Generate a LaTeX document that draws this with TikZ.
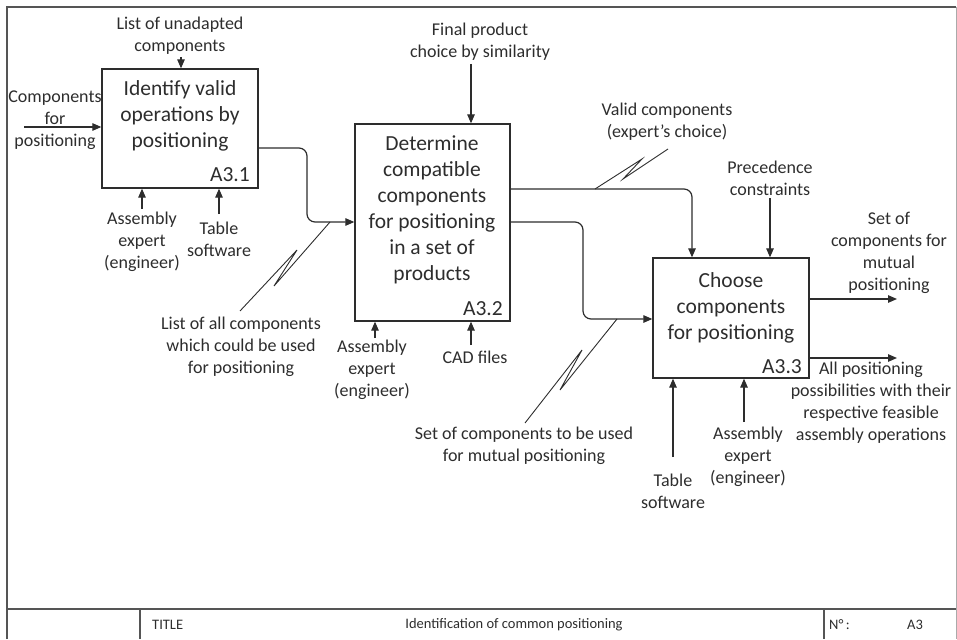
\documentclass[tikz,border=0pt]{standalone}
\usepackage{fontspec}
\setmainfont{Carlito}
\usetikzlibrary{arrows.meta}
\definecolor{ink}{RGB}{45,45,45}
\definecolor{framec}{RGB}{85,85,85}
\begin{document}
\begin{tikzpicture}[x=1pt,y=-1pt,
  box/.style={draw=ink, line width=1.3pt, inner sep=0pt},
  lbl/.style={text=ink, align=center, inner sep=0pt, font=\fontsize{18}{22}\selectfont},
  big/.style={text=ink, align=center, inner sep=0pt, font=\fontsize{21.5}{26}\selectfont},
  tlt/.style={text=ink, inner sep=0pt, font=\fontsize{14.5}{17}\selectfont},
  arr/.style={draw=ink, line width=1.2pt, -{Triangle[length=9pt,width=7.5pt]}},
  flow/.style={arr, rounded corners=8pt},
  squig/.style={draw=ink, line width=0.9pt, line join=miter},
  framel/.style={draw=framec, line width=1.4pt}]
\useasboundingbox (0,0) rectangle (957,639);

% frame and title block
\draw[framel] (7,639) -- (7,7) -- (956,7);
\draw[draw=framec!50, line width=0.8pt] (956,7) -- (956,639);
\draw[framel] (7,609) -- (956,609);
\draw[framel] (140,609) -- (140,639);
\draw[framel] (824,609) -- (824,639);
\node[tlt, anchor=west] (ttl) at (152,625) {TITLE};
\node[tlt] (tname) at (514,625) {Identification of common positioning};
\node[tlt, anchor=west] (tno) at (829,625) {N°\,:};
\node[tlt] (tnum) at (915,625) {A3};

% activity boxes
\node[box, minimum width=156pt, minimum height=119pt] (b1) at (180,128.5) {};
\node[box, minimum width=155pt, minimum height=197pt] (b2) at (432.5,222.5) {};
\node[box, minimum width=156pt, minimum height=120pt] (b3) at (731,318) {};

\node[big] (t1) at (180,116) {Identify valid\\operations by\\positioning};
\node[big, anchor=east] (id1) at (250,175) {A3.1};
\node[big] (t2) at (432,210) {Determine\\compatible\\components\\for positioning\\in a set of\\products};
\node[big, anchor=east] (id2) at (503,309) {A3.2};
\node[big] (t3) at (731,308) {Choose\\components\\for positioning};
\node[big, anchor=east] (id3) at (802,367) {A3.3};

% A3.1 ICOMs
\node[lbl] (in1) at (55,120) {Components\\for\\positioning};
\coordinate (in1a) at (24,127);
\draw[arr] (in1a) -- (in1a -| b1.west);

\node[lbl] (c1) at (180,36) {List of unadapted\\components};
\coordinate (c1a) at (181,57);
\draw[arr] (c1a) -- (c1a |- b1.north);

\node[lbl] (m11) at (142,242) {Assembly\\expert\\(engineer)};
\coordinate (m11a) at (142,209);
\draw[arr] (m11a) -- (m11a |- b1.south);

\node[lbl] (m12) at (219,239) {Table\\software};
\coordinate (m12a) at (219,214);
\draw[arr] (m12a) -- (m12a |- b1.south);

% A3.1 -> A3.2
\coordinate (o1) at (258,148);
\coordinate (o1b) at (307,148);
\coordinate (o1c) at (307,222);
\draw[flow] (o1) -- (o1b) -- (o1c) -- (o1c -| b2.west);

\node[lbl] (l1) at (241,347) {List of all components\\which could be used\\for positioning};
\coordinate (s1a) at (330,222);
\coordinate (s1b) at (240,311);
\draw[squig] (s1a) -- (274,286) -- (297,250) -- (s1b);

% A3.2 ICOMs
\node[lbl] (c2) at (480,42) {Final product\\choice by similarity};
\coordinate (c2a) at (471,64);
\draw[arr] (c2a) -- (c2a |- b2.north);

\node[lbl] (m21) at (372,370) {Assembly\\expert\\(engineer)};
\coordinate (m21a) at (375,338);
\draw[arr] (m21a) -- (m21a |- b2.south);

\node[lbl] (m22) at (475,357) {CAD files};
\coordinate (m22a) at (471,345);
\draw[arr] (m22a) -- (m22a |- b2.south);

% A3.2 -> A3.3 (control)
\coordinate (o2) at (510,189);
\coordinate (o2b) at (692,189);
\draw[flow] (o2) -- (o2b) -- (o2b |- b3.north);

\node[lbl] (l2) at (667,122) {Valid components\\(expert’s choice)};
\coordinate (s2a) at (595,189);
\coordinate (s2b) at (668,149);
\draw[squig] (s2a) -- (642,159) -- (623,179) -- (s2b);

% A3.2 -> A3.3 (input)
\coordinate (o3) at (510,222);
\coordinate (o3b) at (583,222);
\coordinate (o3c) at (583,319);
\draw[flow] (o3) -- (o3b) -- (o3c) -- (o3c -| b3.west);

\node[lbl] (l3) at (524,446) {Set of components to be used\\for mutual positioning};
\coordinate (s3a) at (617,319);
\coordinate (s3b) at (525,423);
\draw[squig] (s3a) -- (560,390) -- (582,350) -- (s3b);

% A3.3 ICOMs
\node[lbl] (c3) at (770,178) {Precedence\\constraints};
\coordinate (c3a) at (770,198);
\draw[arr] (c3a) -- (c3a |- b3.north);

\node[lbl] (out1) at (889,253) {Set of\\components for\\mutual\\positioning};
\coordinate (out1a) at (809,299);
\draw[arr] (out1a) -- (897,299) coordinate (out1b);

\node[lbl] (out2) at (871,403) {All positioning\\possibilities with their\\respective feasible\\assembly operations};
\coordinate (out2a) at (809,358);
\draw[arr] (out2a) -- (897,358) coordinate (out2b);

\node[lbl] (m31) at (673,491) {Table\\software};
\coordinate (m31a) at (673,457);
\draw[arr] (m31a) -- (m31a |- b3.south);

\node[lbl] (m32) at (748,457) {Assembly\\expert\\(engineer)};
\coordinate (m32a) at (744,422);
\draw[arr] (m32a) -- (m32a |- b3.south);
\end{tikzpicture}
\end{document}
